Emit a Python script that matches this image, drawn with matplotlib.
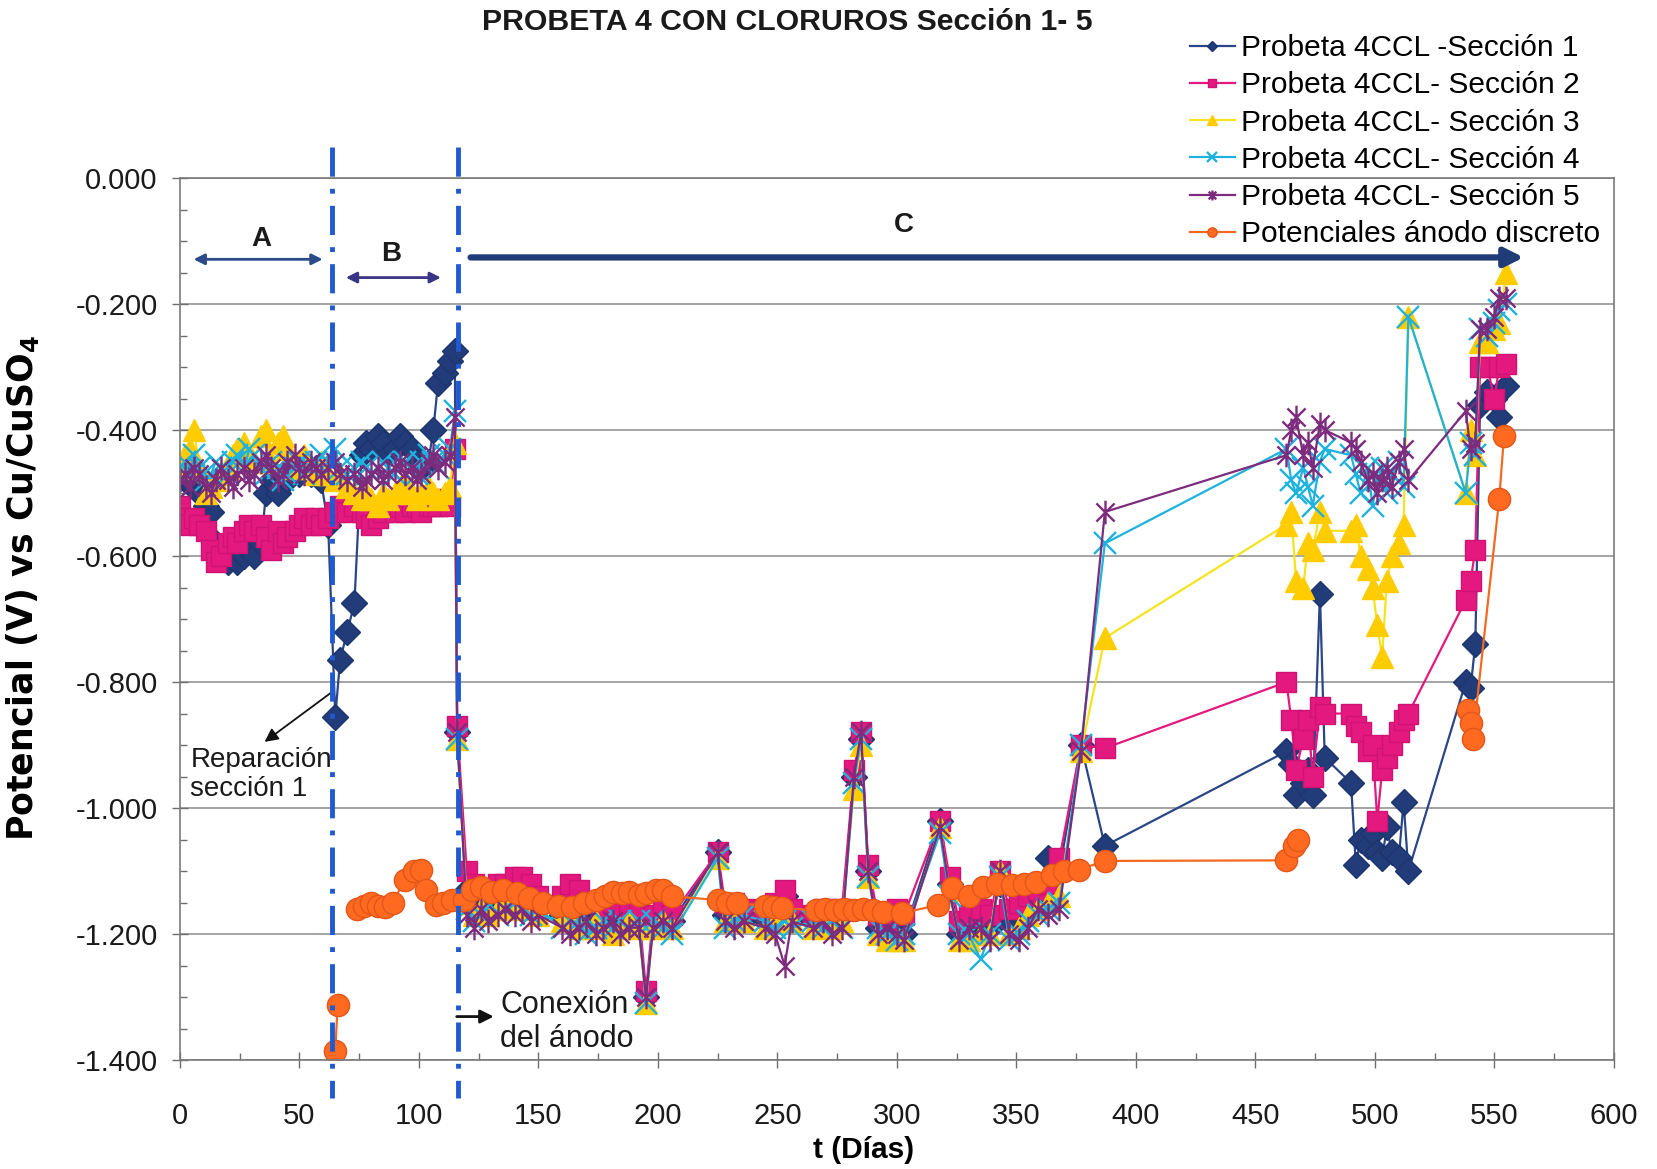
import numpy as np
import matplotlib
matplotlib.use("Agg")
import matplotlib.pyplot as plt
from matplotlib.path import Path
from matplotlib.ticker import MultipleLocator, FormatStrFormatter

plt.rcParams["font.family"] = ["Liberation Sans", "DejaVu Sans"]
plt.rcParams["axes.unicode_minus"] = False

# Días de medida de las secciones
dias = [0, 2, 4, 6, 8, 11, 13, 15, 17, 20,
        22, 24, 27, 29, 31, 34, 36, 38, 41, 43,
        45, 48, 50, 52, 55, 57, 59, 62, 65, 67,
        70, 73, 76, 78, 80, 83, 85, 87, 90, 92,
        94, 97, 99, 101, 104, 106, 108, 111, 113, 115,
        116, 120, 123, 126, 129, 133, 136, 140, 143, 147,
        150, 160, 163, 167, 170, 174, 177, 181, 184, 188,
        192, 195, 198, 202, 206, 225, 228, 232, 236, 245,
        249, 253, 256, 265, 269, 273, 277, 282, 285, 288,
        292, 296, 300, 303, 318, 322, 326, 330, 335, 339,
        343, 347, 351, 355, 359, 363, 368, 377, 387, 463,
        465, 467, 470, 472, 474, 477, 479, 490, 492, 494,
        497, 499, 501, 503, 505, 507, 510, 512, 514, 538,
        540, 542, 544, 547, 550, 552, 555]

seccion_1 = [-0.47, -0.48, -0.46, -0.49, -0.50, -0.52, -0.53, -0.58, -0.60, -0.61,
             -0.59, -0.61, -0.60, -0.59, -0.60, -0.58, -0.50, -0.48, -0.50, -0.47,
             -0.48, -0.46, -0.47, -0.45, -0.47, -0.46, -0.48, -0.55, -0.855, -0.765,
             -0.72, -0.675, -0.44, -0.42, -0.43, -0.41, -0.42, -0.44, -0.43, -0.41,
             -0.42, -0.43, -0.45, -0.46, -0.45, -0.40, -0.325, -0.31, -0.29, -0.275,
             -0.88, -1.13, -1.15, -1.14, -1.16, -1.15, -1.14, -1.15, -1.14, -1.15,
             -1.16, -1.17, -1.16, -1.17, -1.18, -1.17, -1.18, -1.17, -1.18, -1.17,
             -1.18, -1.30, -1.18, -1.17, -1.18, -1.07, -1.17, -1.16, -1.17, -1.18,
             -1.17, -1.14, -1.17, -1.18, -1.17, -1.18, -1.17, -0.95, -0.89, -1.10,
             -1.19, -1.20, -1.19, -1.20, -1.02, -1.12, -1.20, -1.19, -1.18, -1.19,
             -1.12, -1.18, -1.17, -1.16, -1.14, -1.08, -1.10, -0.90, -1.06, -0.91,
             -0.93, -0.98, -0.96, -0.94, -0.98, -0.66, -0.92, -0.96, -1.09, -1.05,
             -1.06, -1.04, -1.07, -1.08, -1.03, -1.07, -1.08, -0.99, -1.10, -0.80,
             -0.81, -0.74, -0.36, -0.34, -0.35, -0.38, -0.33]

seccion_2 = [-0.52, -0.54, -0.55, -0.54, -0.55, -0.56, -0.59, -0.61, -0.60, -0.58,
             -0.57, -0.58, -0.56, -0.55, -0.56, -0.55, -0.57, -0.59, -0.56, -0.58,
             -0.57, -0.56, -0.55, -0.54, -0.55, -0.54, -0.55, -0.54, -0.53, -0.52,
             -0.53, -0.52, -0.53, -0.54, -0.55, -0.54, -0.53, -0.52, -0.53, -0.52,
             -0.53, -0.52, -0.52, -0.53, -0.52, -0.52, -0.52, -0.51, -0.52, -0.43,
             -0.87, -1.10, -1.12, -1.13, -1.13, -1.12, -1.12, -1.11, -1.11, -1.12,
             -1.14, -1.14, -1.12, -1.13, -1.15, -1.15, -1.16, -1.15, -1.16, -1.15,
             -1.16, -1.29, -1.17, -1.16, -1.17, -1.07, -1.15, -1.15, -1.16, -1.16,
             -1.15, -1.13, -1.16, -1.17, -1.16, -1.17, -1.16, -0.94, -0.88, -1.09,
             -1.17, -1.18, -1.16, -1.17, -1.02, -1.11, -1.18, -1.17, -1.16, -1.17,
             -1.10, -1.16, -1.15, -1.14, -1.13, -1.12, -1.08, -0.90, -0.905, -0.80,
             -0.86, -0.94, -0.89, -0.86, -0.95, -0.84, -0.85, -0.85, -0.87, -0.88,
             -0.91, -0.90, -1.02, -0.94, -0.92, -0.90, -0.88, -0.86, -0.85, -0.67,
             -0.64, -0.59, -0.30, -0.30, -0.35, -0.30, -0.295]

seccion_3 = [-0.46, -0.44, -0.43, -0.40, -0.46, -0.50, -0.49, -0.48, -0.47, -0.46,
             -0.44, -0.43, -0.42, -0.44, -0.45, -0.41, -0.40, -0.45, -0.42, -0.41,
             -0.43, -0.46, -0.45, -0.44, -0.46, -0.47, -0.45, -0.47, -0.48, -0.47,
             -0.49, -0.50, -0.51, -0.50, -0.51, -0.52, -0.50, -0.51, -0.50, -0.49,
             -0.48, -0.50, -0.51, -0.50, -0.49, -0.50, -0.51, -0.50, -0.49, -0.42,
             -0.89, -1.15, -1.17, -1.16, -1.17, -1.16, -1.15, -1.16, -1.15, -1.16,
             -1.17, -1.18, -1.17, -1.19, -1.19, -1.18, -1.19, -1.20, -1.19, -1.18,
             -1.19, -1.31, -1.19, -1.18, -1.19, -1.08, -1.18, -1.17, -1.18, -1.19,
             -1.18, -1.16, -1.18, -1.19, -1.18, -1.19, -1.18, -0.97, -0.90, -1.11,
             -1.20, -1.21, -1.21, -1.21, -1.03, -1.13, -1.21, -1.21, -1.20, -1.20,
             -1.10, -1.20, -1.19, -1.17, -1.16, -1.15, -1.14, -0.91, -0.73, -0.55,
             -0.53, -0.64, -0.65, -0.58, -0.59, -0.53, -0.56, -0.56, -0.55, -0.60,
             -0.62, -0.65, -0.71, -0.76, -0.64, -0.60, -0.58, -0.55, -0.22, -0.50,
             -0.40, -0.44, -0.26, -0.26, -0.24, -0.23, -0.15]

seccion_4 = [-0.46, -0.45, -0.47, -0.44, -0.46, -0.48, -0.47, -0.45, -0.46, -0.47,
             -0.45, -0.44, -0.46, -0.43, -0.44, -0.46, -0.47, -0.45, -0.46, -0.48,
             -0.47, -0.46, -0.45, -0.47, -0.46, -0.45, -0.44, -0.45, -0.43, -0.46,
             -0.47, -0.46, -0.45, -0.46, -0.47, -0.46, -0.45, -0.46, -0.47, -0.46,
             -0.45, -0.46, -0.47, -0.45, -0.44, -0.45, -0.46, -0.44, -0.43, -0.37,
             -0.89, -1.16, -1.18, -1.17, -1.15, -1.17, -1.16, -1.15, -1.16, -1.17,
             -1.16, -1.19, -1.18, -1.18, -1.20, -1.19, -1.18, -1.19, -1.18, -1.19,
             -1.18, -1.31, -1.18, -1.19, -1.20, -1.08, -1.19, -1.18, -1.17, -1.18,
             -1.19, -1.18, -1.19, -1.18, -1.19, -1.18, -1.19, -0.96, -0.89, -1.11,
             -1.19, -1.20, -1.21, -1.20, -1.04, -1.14, -1.20, -1.20, -1.24, -1.20,
             -1.11, -1.21, -1.20, -1.18, -1.17, -1.16, -1.15, -0.90, -0.58, -0.43,
             -0.48, -0.50, -0.46, -0.49, -0.52, -0.45, -0.43, -0.44, -0.47, -0.50,
             -0.46, -0.52, -0.48, -0.46, -0.50, -0.47, -0.45, -0.49, -0.22, -0.50,
             -0.42, -0.44, -0.24, -0.25, -0.23, -0.21, -0.20]

seccion_5 = [-0.48, -0.47, -0.49, -0.46, -0.47, -0.49, -0.50, -0.48, -0.46, -0.48,
             -0.49, -0.47, -0.46, -0.48, -0.47, -0.45, -0.44, -0.46, -0.48, -0.47,
             -0.45, -0.44, -0.46, -0.47, -0.45, -0.46, -0.47, -0.46, -0.45, -0.47,
             -0.48, -0.47, -0.49, -0.48, -0.47, -0.46, -0.48, -0.47, -0.46, -0.45,
             -0.47, -0.46, -0.48, -0.47, -0.45, -0.44, -0.46, -0.45, -0.44, -0.38,
             -0.88, -1.17, -1.19, -1.16, -1.18, -1.17, -1.16, -1.17, -1.16, -1.18,
             -1.17, -1.19, -1.20, -1.19, -1.18, -1.20, -1.19, -1.18, -1.20, -1.19,
             -1.19, -1.30, -1.19, -1.18, -1.19, -1.07, -1.18, -1.19, -1.18, -1.19,
             -1.20, -1.25, -1.18, -1.19, -1.18, -1.20, -1.19, -0.95, -0.88, -1.10,
             -1.20, -1.19, -1.20, -1.21, -1.03, -1.13, -1.21, -1.19, -1.19, -1.21,
             -1.10, -1.20, -1.21, -1.19, -1.16, -1.17, -1.16, -0.91, -0.53, -0.44,
             -0.40, -0.38, -0.44, -0.42, -0.46, -0.39, -0.40, -0.42, -0.43, -0.45,
             -0.48, -0.47, -0.50, -0.48, -0.46, -0.49, -0.45, -0.43, -0.48, -0.37,
             -0.43, -0.42, -0.24, -0.24, -0.22, -0.19, -0.19]

# Potenciales del ánodo discreto (nan = sin medida, corta la línea)
dias_anodo = [65, 66, 70, 74, 77, 80, 83, 86, 89, 94,
              98, 101, 103, 107, 110, 114, 119, 122, 126, 130,
              135, 141, 146, 152, 158, 164, 169, 174, 178, 181,
              185, 188, 192, 195, 199, 202, 206, 225, 229, 233,
              245, 248, 252, 266, 270, 274, 278, 282, 286, 290,
              294, 302, 317, 323, 330, 336, 342, 348, 353, 358,
              365, 370, 376, 387, 463, 466, 468, 500, 539, 540,
              541, 552, 554]
anodo = [-1.385, -1.313, np.nan, -1.16, -1.155, -1.15, -1.155, -1.157, -1.15, -1.115,
         -1.10, -1.098, -1.13, -1.154, -1.15, -1.146, -1.146, -1.13, -1.125, -1.133,
         -1.13, -1.135, -1.143, -1.15, -1.155, -1.157, -1.15, -1.146, -1.14, -1.133,
         -1.135, -1.133, -1.138, -1.135, -1.13, -1.13, -1.14, -1.146, -1.15, -1.151,
         -1.155, -1.157, -1.159, -1.162, -1.16, -1.162, -1.16, -1.162, -1.16, -1.162,
         -1.165, -1.167, -1.154, -1.127, -1.14, -1.125, -1.12, -1.122, -1.12, -1.117,
         -1.106, -1.10, -1.098, -1.084, -1.083, -1.06, -1.05, np.nan, -0.845, -0.865,
         -0.89, -0.51, -0.41]

etiquetas = ["Probeta 4CCL -Sección 1", "Probeta 4CCL- Sección 2",
             "Probeta 4CCL- Sección 3", "Probeta 4CCL- Sección 4",
             "Probeta 4CCL- Sección 5", "Potenciales ánodo discreto"]

# marcador tipo asterisco (aspa + barra vertical)
estrella = Path([(-1, -1), (1, 1), (-1, 1), (1, -1), (0, -1.3), (0, 1.3)],
                [Path.MOVETO, Path.LINETO, Path.MOVETO, Path.LINETO,
                 Path.MOVETO, Path.LINETO])

fig = plt.figure(figsize=(16.57, 11.69), dpi=100)
ax = fig.add_axes([0.1086, 0.0932, 0.8654, 0.7545])

ax.plot(dias, seccion_1, color="#2a4686", lw=1.6, marker="D", ms=13,
        mfc="#213c78", mec="#1c3570", label=etiquetas[0])
ax.plot(dias, seccion_2, color="#e3197f", lw=1.6, marker="s", ms=15,
        mfc="#e3197f", mec="#d01272", label=etiquetas[1])
ax.plot(dias, seccion_3, color="#f4e41e", lw=1.6, marker="^", ms=16,
        mfc="#ffcc00", mec="#ffcc00", label=etiquetas[2])
ax.plot(dias, seccion_4, color="#1eb2dd", lw=1.6, marker="x", ms=16,
        mew=1.7, label=etiquetas[3])
ax.plot(dias, seccion_5, color="#7d2b7d", lw=1.6, marker=estrella, ms=17,
        mew=1.7, mfc="none", mec="#7d2b7d", label=etiquetas[4])
ax.plot(dias_anodo, anodo, color="#f26a22", lw=1.6, marker="o", ms=16,
        mfc="#ff6a20", mec="#e2561a", label=etiquetas[5])

ax.set_xlim(0, 600)
ax.set_ylim(-1.4, 0)
ax.xaxis.set_major_locator(MultipleLocator(50))
ax.xaxis.set_minor_locator(MultipleLocator(25))
ax.yaxis.set_major_locator(MultipleLocator(0.2))
ax.yaxis.set_minor_locator(MultipleLocator(0.05))
ax.yaxis.set_major_formatter(FormatStrFormatter("%.3f"))
ax.tick_params(axis="both", which="major", direction="inout", length=12,
               width=1, colors="#6e6e6e", labelcolor="#1a1a1a", labelsize=21)
ax.tick_params(axis="both", which="minor", direction="in", length=5,
               width=1, colors="#6e6e6e")
ax.tick_params(axis="x", which="major", pad=24)
ax.tick_params(axis="y", which="major", pad=10)
ax.grid(axis="y", which="major", color="#8c8c8c", lw=1.1)
ax.set_axisbelow(True)
for lado in ax.spines.values():
    lado.set_color("#7a7a7a")
    lado.set_linewidth(1.2)

ax.set_xlabel("t (Días)", fontsize=21.5, fontweight="bold")
ax.xaxis.set_label_coords(0.477, -0.086)
ax.set_ylabel("Potencial (V) vs Cu/CuSO$_\\mathbf{4}$", fontsize=25,
              fontweight="bold", family=["DejaVu Sans"])
ax.yaxis.set_label_coords(-0.097, 0.535)
fig.text(0.475, 0.981, "PROBETA 4 CON CLORUROS Sección 1- 5", fontsize=21.8,
         fontweight="bold", ha="center", va="center", color="#1a1a1a")

# reparación y conexión del ánodo
for x_linea in (63.7, 116.3):
    ax.plot([x_linea, x_linea], [0.05, -1.46], color="#1f5ad2", lw=3.5,
            linestyle=(0, (6, 2.5, 1, 2.5)), clip_on=False, zorder=5)

# fases A, B y C
ax.annotate("", xy=(5.7, -0.129), xytext=(59.7, -0.129),
            arrowprops=dict(arrowstyle="<|-|>", color="#2a4a8a", lw=2,
                            mutation_scale=16, shrinkA=0, shrinkB=0))
ax.text(34, -0.096, "A", fontsize=20, fontweight="bold", ha="center",
        va="center", color="#1a1a1a")
ax.annotate("", xy=(69.4, -0.158), xytext=(109.2, -0.158),
            arrowprops=dict(arrowstyle="<|-|>", color="#3b3585", lw=2,
                            mutation_scale=16, shrinkA=0, shrinkB=0))
ax.text(88.4, -0.121, "B", fontsize=20, fontweight="bold", ha="center",
        va="center", color="#1a1a1a")
ax.annotate("", xy=(562.3, -0.126), xytext=(121.6, -0.126),
            arrowprops=dict(arrowstyle="-|>", color="#1f3c78", lw=4.5,
                            mutation_scale=28, shrinkA=0, shrinkB=0))
ax.text(303, -0.075, "C", fontsize=20, fontweight="bold", ha="center",
        va="center", color="#1a1a1a")

ax.annotate("", xy=(35.4, -0.895), xytext=(63.2, -0.817),
            arrowprops=dict(arrowstyle="-|>", color="#111111", lw=1.3,
                            mutation_scale=20, shrinkA=0, shrinkB=0))
ax.text(4.4, -0.947, "Reparación\nsección 1", fontsize=20, ha="left",
        va="center", linespacing=1.18, color="#1a1a1a")
ax.annotate("", xy=(131.3, -1.331), xytext=(115.8, -1.331),
            arrowprops=dict(arrowstyle="-|>", color="#111111", lw=2,
                            mutation_scale=20, shrinkA=0, shrinkB=0))
ax.text(134, -1.339, "Conexión\ndel ánodo", fontsize=22, ha="left",
        va="center", linespacing=1.18, color="#1a1a1a")

fig.legend(loc="upper left", bbox_to_anchor=(0.711, 0.981), frameon=False,
           fontsize=21.5, markerscale=0.42, handlelength=1.5, handletextpad=0.2,
           labelspacing=0.31, borderaxespad=0)

plt.savefig("out.png", dpi=100)
